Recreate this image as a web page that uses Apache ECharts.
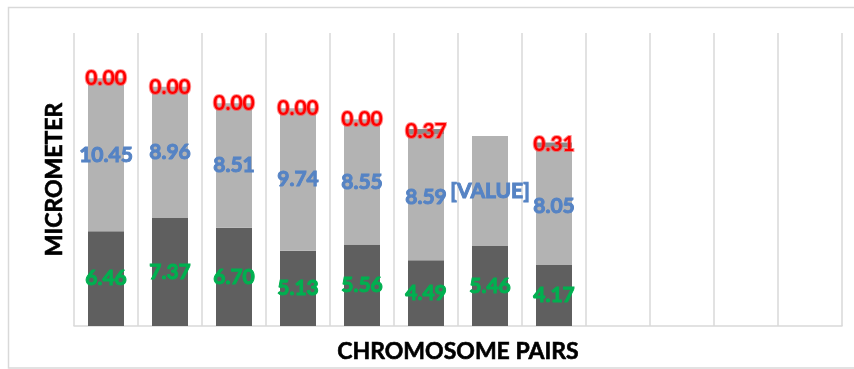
<!DOCTYPE html>
<html>
<head>
<meta charset="utf-8">
<script src="https://cdn.jsdelivr.net/npm/echarts@6/dist/echarts.min.js"></script>
<style>
  html, body { margin: 0; padding: 0; background: #fff; }
  #chart { width: 854px; height: 369px; }
</style>
</head>
<body>
<div id="chart"></div>
<script>
// Chromosome pairs (12 slots, only the first 8 are measured)
const pairs = ['1', '2', '3', '4', '5', '6', '7', '8', '9', '10', '11', '12'];
// Short arm length (micrometer)
const shortArm = [6.46, 7.37, 6.70, 5.13, 5.56, 4.49, 5.46, 4.17, null, null, null, null];
// Long arm length (micrometer)
const longArm = [10.45, 8.96, 8.51, 9.74, 8.55, 8.59, 7.51, 8.05, null, null, null, null];
// Satellite length (micrometer)
const satellite = [0.00, 0.00, 0.00, 0.00, 0.00, 0.37, null, 0.31, null, null, null, null];
// Long-arm label text that is shown as a placeholder instead of its number
const longArmPlaceholder = { 6: '[VALUE]' };

const FONT = 'Lato';

const chart = echarts.init(document.getElementById('chart'), null, { renderer: 'canvas' });

function segLabel(color, border) {
  return {
    show: true,
    position: 'inside',
    color: color,
    fontFamily: FONT,
    fontSize: 21,
    fontWeight: 'bold',
    textBorderColor: border,
    textBorderWidth: 1,
    formatter: p => (p.value == null ? '' : Number(p.value).toFixed(2))
  };
}

chart.setOption({
  animation: false,
  backgroundColor: '#ffffff',
  graphic: [{
    type: 'rect',
    shape: { x: 8.5, y: 7.5, width: 860, height: 360.5 },
    style: { fill: 'none', stroke: '#d9d9d9', lineWidth: 1.5 },
    silent: true,
    z: -10
  }],
  grid: { left: 74, right: 12, top: 33, bottom: 43, containLabel: false },
  xAxis: {
    type: 'category',
    data: pairs,
    boundaryGap: true,
    name: 'CHROMOSOME PAIRS',
    nameLocation: 'middle',
    nameGap: 14,
    nameTextStyle: { fontFamily: FONT, fontSize: 23, fontWeight: 'bold', color: '#000000', textBorderColor: '#000000', textBorderWidth: 0.6 },
    axisLine: { show: true, lineStyle: { color: '#d9d9d9', width: 1.5 } },
    axisTick: { show: false },
    axisLabel: { show: false },
    splitLine: { show: true, interval: 0, lineStyle: { color: '#d9d9d9', width: 1.5 } }
  },
  yAxis: {
    type: 'value',
    min: 0,
    max: 20,
    name: 'MICROMETER',
    nameLocation: 'middle',
    nameGap: 8,
    nameRotate: 90,
    nameTextStyle: { fontFamily: FONT, fontSize: 23, fontWeight: 'bold', color: '#000000', textBorderColor: '#000000', textBorderWidth: 0.6 },
    axisLine: { show: false },
    axisTick: { show: false },
    axisLabel: { show: false },
    splitLine: { show: false }
  },
  series: [
    {
      name: 'Short arm',
      type: 'bar',
      stack: 'len',
      barWidth: 36,
      data: shortArm,
      itemStyle: { color: '#5f5f5f' },
      label: segLabel('#00b050', '#00b050')
    },
    {
      name: 'Long arm',
      type: 'bar',
      stack: 'len',
      barWidth: 36,
      data: longArm,
      itemStyle: { color: '#b3b3b3' },
      label: Object.assign(segLabel('#5583c4', '#5583c4'), {
        formatter: p => longArmPlaceholder[p.dataIndex] || (p.value == null ? '' : Number(p.value).toFixed(2))
      })
    },
    {
      name: 'Satellite',
      type: 'bar',
      stack: 'len',
      barWidth: 36,
      data: satellite,
      itemStyle: { color: '#8c8c8c' },
      label: Object.assign(segLabel('#ff0000', 'rgba(255,70,70,0.6)'), {
        textBorderWidth: 2
      })
    }
  ]
});
</script>
</body>
</html>
